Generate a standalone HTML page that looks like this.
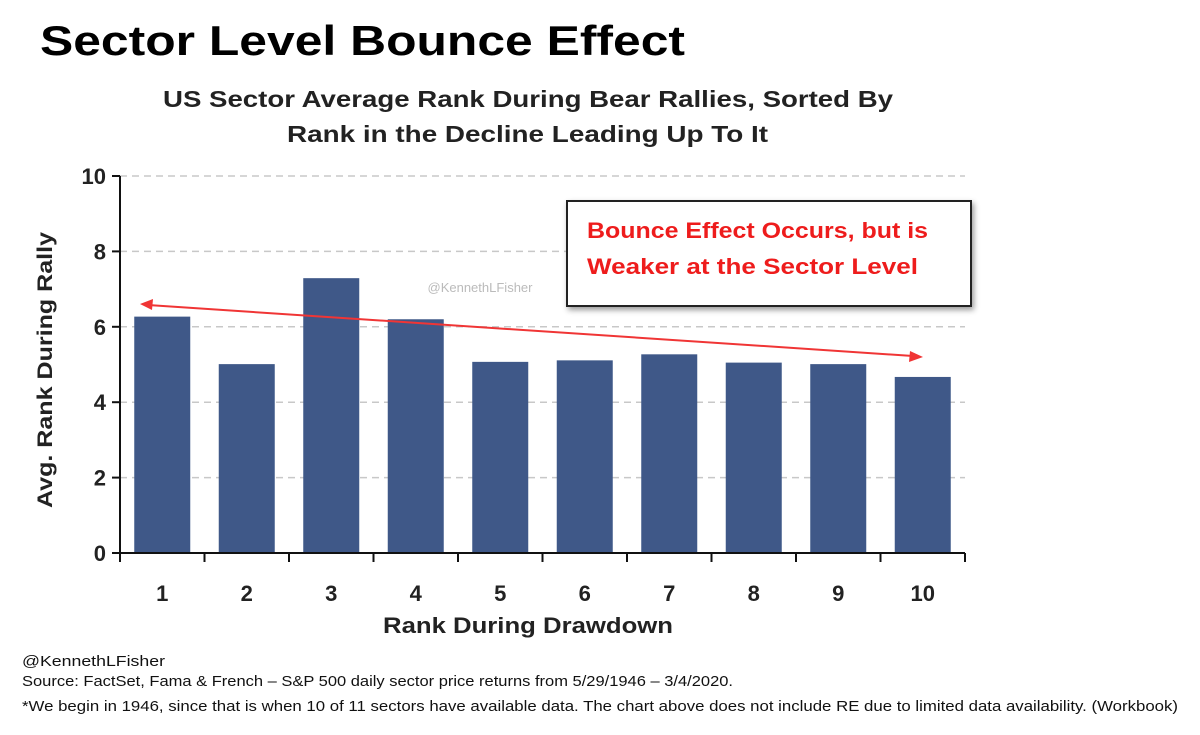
<!DOCTYPE html>
<html><head><meta charset="utf-8"><style>
body{margin:0;background:#fff;width:1200px;height:735px;overflow:hidden;font-family:"Liberation Sans",sans-serif}
</style></head><body>
<svg width="1200" height="735" style="position:absolute;left:0;top:0">
<text x="40" y="55" font-size="42" font-weight="bold" fill="#000" textLength="645" lengthAdjust="spacingAndGlyphs">Sector Level Bounce Effect</text>
<text x="163" y="107" font-size="23" font-weight="bold" fill="#222" textLength="730" lengthAdjust="spacingAndGlyphs">US Sector Average Rank During Bear Rallies, Sorted By</text>
<text x="287" y="142" font-size="23" font-weight="bold" fill="#222" textLength="481" lengthAdjust="spacingAndGlyphs">Rank in the Decline Leading Up To It</text>
<g id="grid"></g>
<g id="bars"></g>
<g id="axes"></g>
<text x="480" y="292" text-anchor="middle" font-size="13" fill="#bbb">@KennethLFisher</text>
<text transform="translate(52,370) rotate(-90)" text-anchor="middle" font-size="21" font-weight="bold" fill="#222" textLength="276" lengthAdjust="spacingAndGlyphs">Avg. Rank During Rally</text>
<text x="383" y="633" font-size="22" font-weight="bold" fill="#222" textLength="290" lengthAdjust="spacingAndGlyphs">Rank During Drawdown</text>
<defs><filter id="sh"><feDropShadow dx="2" dy="3" stdDeviation="3" flood-opacity="0.4"/></filter></defs>
<line x1="148" y1="305" x2="913" y2="356" stroke="#f03535" stroke-width="2"/>
<polygon points="140,304 153,299 152,310" fill="#f03535"/>
<polygon points="923,357 910,351 909,362" fill="#f03535"/>
<rect x="567" y="201" width="404" height="105" fill="#fff" stroke="#222" stroke-width="2" filter="url(#sh)"/>
<text x="587" y="238" font-size="22" font-weight="bold" fill="#ee1c1c" textLength="341" lengthAdjust="spacingAndGlyphs">Bounce Effect Occurs, but is</text>
<text x="587" y="274" font-size="22" font-weight="bold" fill="#ee1c1c" textLength="331" lengthAdjust="spacingAndGlyphs">Weaker at the Sector Level</text>
<text x="22" y="666" font-size="15" fill="#111" textLength="143" lengthAdjust="spacingAndGlyphs">@KennethLFisher</text>
<text x="22" y="686" font-size="15" fill="#111" textLength="711" lengthAdjust="spacingAndGlyphs">Source: FactSet, Fama &amp; French – S&amp;P 500 daily sector price returns from 5/29/1946 – 3/4/2020.</text>
<text x="22" y="711" font-size="15" fill="#111" textLength="1156" lengthAdjust="spacingAndGlyphs">*We begin in 1946, since that is when 10 of 11 sectors have available data. The chart above does not include RE due to limited data availability. (Workbook)</text>
</svg>
<script>
const categories=["1","2","3","4","5","6","7","8","9","10"];
const values=[6.27,5.01,7.29,6.2,5.07,5.11,5.27,5.05,5.01,4.67];
const yTicks=[0,2,4,6,8,10];
const NS="http://www.w3.org/2000/svg";
const x0=120,x1=965,yb=553,yt=176;
const bw=(x1-x0)/categories.length;
const y=v=>yb-(v/10)*(yb-yt);
function mk(t,a,p){const e=document.createElementNS(NS,t);for(const k in a)e.setAttribute(k,a[k]);p.appendChild(e);return e;}
const g=document.getElementById('grid'),b=document.getElementById('bars'),ax=document.getElementById('axes');
yTicks.forEach(v=>{
 if(v>0){const l=mk('line',{x1:x0,x2:x1,y1:y(v),y2:y(v),stroke:'#c8c8c8','stroke-width':1.5,'stroke-dasharray':'7,5'},g);
 
 }
 const tk=mk('line',{x1:x0-8,x2:x0,y1:y(v),y2:y(v),stroke:'#111','stroke-width':2},ax);
 
 
 const t=mk('text',{x:x0-14,y:y(v)+8,'text-anchor':'end','font-size':22,'font-weight':'bold',fill:'#222'},ax);
 t.textContent=v;
 
 
});
categories.forEach((c,i)=>{
 const cx=x0+bw*(i+0.5);
 const r=mk('rect',{x:cx-28,y:y(values[i]),width:56,height:yb-y(values[i]),fill:'#3f5888'},b);
 
 
 const t=mk('text',{x:cx,y:601,'text-anchor':'middle','font-size':22,'font-weight':'bold',fill:'#222'},ax);
 t.textContent=c;
 
 
});
for(let i=0;i<=categories.length;i++){
 const tk=mk('line',{x1:x0+bw*i,x2:x0+bw*i,y1:yb,y2:yb+9,stroke:'#111','stroke-width':2},ax);
 
 
}
const ya=mk('line',{x1:x0,x2:x0,y1:yt,y2:yb,stroke:'#111','stroke-width':2},ax);


const xa=mk('line',{x1:x0-8,x2:x1,y1:yb,y2:yb,stroke:'#111','stroke-width':2},ax);


</script>
</body></html>
